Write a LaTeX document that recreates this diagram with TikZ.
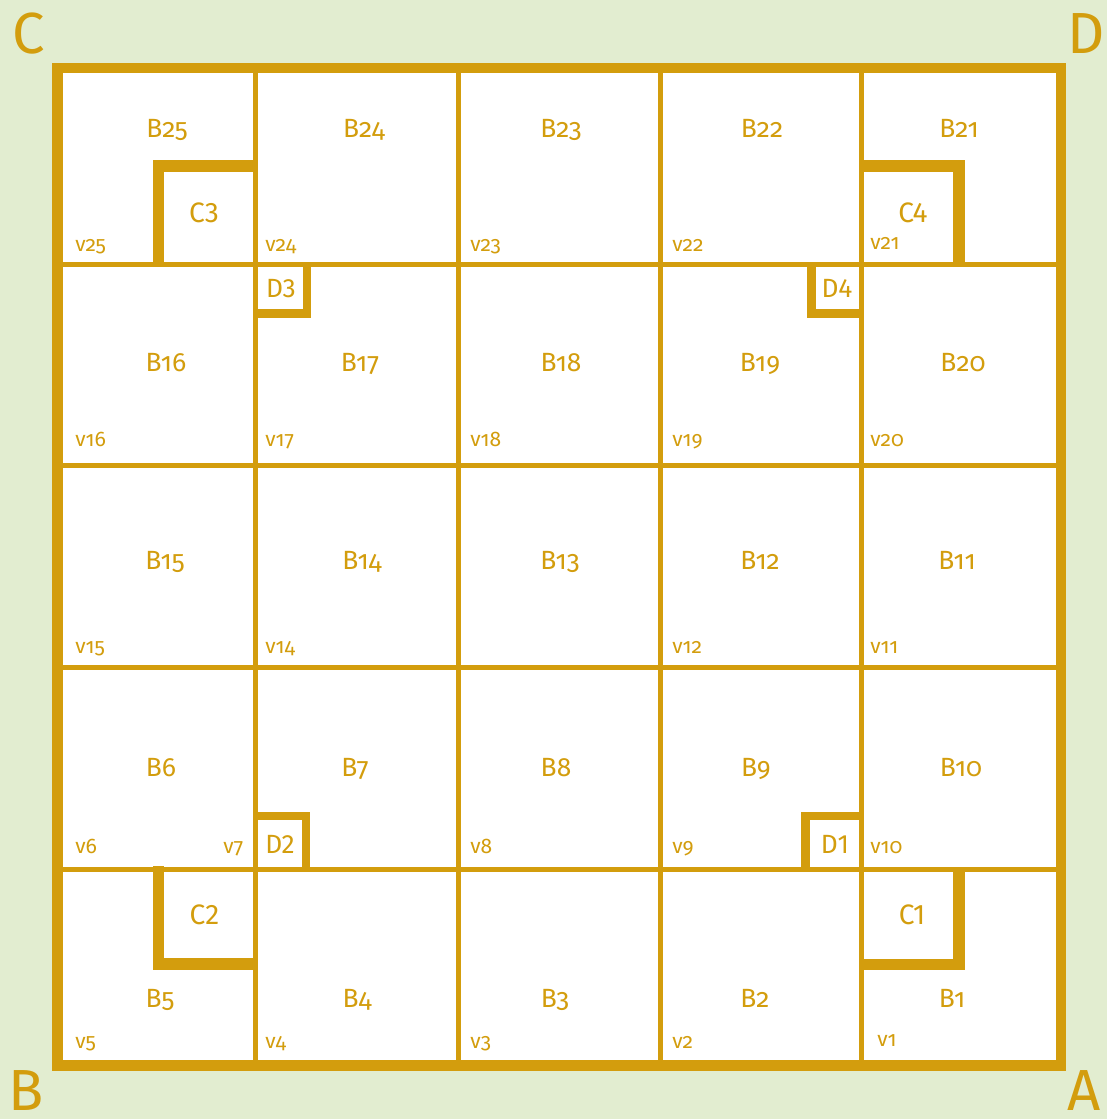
\documentclass[tikz,border=0pt]{standalone}
\usepackage{fontspec}
\setmainfont{Fira Sans}
\newfontfamily\osf[Numbers=OldStyle]{Fira Sans}
\usepackage{tikz}
\usetikzlibrary{positioning}
\definecolor{goldc}{HTML}{D39D0D}
\definecolor{paperbg}{HTML}{E2EDD0}
\tikzset{
  gridln/.style={goldc,line width=2.85pt},
  frame/.style={goldc,line width=6.2pt},
  cwall/.style={goldc,line width=6.6pt},
  dwall/.style={goldc,line width=5.1pt},
  blab/.style={text=goldc,inner sep=0pt,anchor=base,font=\osf\fontsize{15}{15}\selectfont},
  vlab/.style={text=goldc,inner sep=0pt,anchor=base west,font=\osf\fontsize{12}{12}\selectfont},
  clab/.style={text=goldc,inner sep=0pt,anchor=base,font=\fontsize{16}{16}\selectfont},
  dlab/.style={text=goldc,inner sep=0pt,anchor=base,font=\fontsize{15}{15}\selectfont},
  corner/.style={text=goldc,inner sep=0pt,anchor=base,font=\fontsize{33}{33}\selectfont}
}
\begin{document}
\begin{tikzpicture}[x=0.02cm,y=-0.02cm]
\fill[paperbg] (0,0) rectangle (1107,1119);
\useasboundingbox (0,0) rectangle (1107,1119);
\coordinate (nw) at (57.5,68); \coordinate (se) at (1061,1065.5);
\fill[white] (nw) rectangle (se);
\foreach \x in {255.5,458,660,861} \draw[gridln] (\x,68) -- (\x,1065.5);
\foreach \y in {264.5,465,667,869} \draw[gridln] (57.5,\y) -- (1061,\y);
\draw[frame] (nw) rectangle (se);
\draw[cwall] (255.5,166) -- (158.5,166) -- (158.5,264.5);
\draw[cwall] (861,166) -- (959,166) -- (959,264.5);
\draw[cwall] (158.5,866) -- (158.5,964) -- (255.5,964);
\draw[cwall] (861,964.5) -- (959,964.5) -- (959,869);
\draw[dwall] (307,264.5) -- (307,313.5) -- (255.5,313.5);
\draw[dwall] (811.5,264.5) -- (811.5,313.5) -- (861,313.5);
\draw[dwall] (255.5,816) -- (306,816) -- (306,869);
\draw[dwall] (861,816) -- (805.7,816) -- (805.7,869);
\foreach \n/\x/\y in {25/167/137,24/364/137,23/561/137,22/762/137,21/959/137,
  16/166/371,17/360/371,18/561/371,19/760/371,20/963/371,
  15/165/569,14/362/569,13/560/569,12/760/569,11/957/569,
  6/161/776,7/355/776,8/556/776,9/756/776,10/961/776,
  5/160/1007,4/357/1007,3/555/1007,2/755/1007,1/952/1007}
  \node[blab] (b\n) at (\x,\y) {B\n};
\foreach \n/\x/\y in {25/75/251,24/265/251,23/470/251,22/672/251,21/870/249,
  16/75/446,17/265/446,18/470/446,19/672/446,20/870/446,
  15/75/653,14/265/653,12/672/653,11/870/653,
  6/75/853,7/223/853,8/470/853,9/672/853,10/870/853,
  5/75/1048,4/265/1048,3/470/1048,2/672/1048,1/877/1046}
  \node[vlab] (v\n) at (\x,\y) {v\n};
\node[clab] (c3) at (204,222) {C3};
\node[clab] (c4) at (913,222) {C4};
\node[clab] (c2) at (204.5,924) {C2};
\node[clab] (c1) at (912,924) {C1};
\node[dlab] (d3) at (281,297) {D3};
\node[dlab] (d4) at (837,297) {D4};
\node[dlab] (d2) at (280,853) {D2};
\node[dlab] (d1) at (835,853) {D1};
\node[corner] (ptC) at (28.5,53) {C};
\node[corner] (ptD) at (1086,53) {D};
\node[corner] (ptB) at (26.5,1110) {B};
\node[corner] (ptA) at (1084,1110) {A};
\end{tikzpicture}
\end{document}
